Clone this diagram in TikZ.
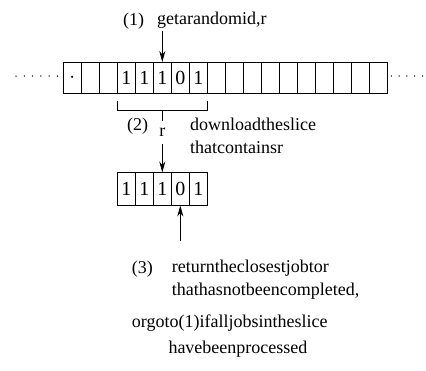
\documentclass[tikz,border=0pt]{standalone}
\usepackage{fontspec}
\setmainfont{Liberation Serif}
\usetikzlibrary{arrows.meta,calc}
\tikzset{
  cell/.style={draw,line width=.8pt,minimum width=18pt,minimum height=31pt,
               inner sep=0pt,outer sep=0pt,font=\fontsize{20}{20}\selectfont},
  lbl/.style ={inner sep=0pt,anchor=base west,font=\fontsize{18}{21}\selectfont},
  ln/.style  ={line width=.8pt},
  ar/.style  ={-{Stealth[length=11pt,width=6pt]},line width=.8pt},
}
\begin{document}
\begin{tikzpicture}[x=1pt,y=-1pt]
\useasboundingbox (0,0) rectangle (426,370);

% ---- the id space ---------------------------------------------------------
\foreach \i/\t in {0/{$\cdot$},1/{},2/{},3/1,4/1,5/1,6/0,7/1,8/{},9/{},10/{},
                   11/{},12/{},13/{},14/{},15/{},16/{},17/{}}
  \node[cell,anchor=north west] (c\i) at (63.3+18*\i,62) {\t};
\foreach \x in {0,...,5} \fill ($(c0.west)+(-47.3+8.3*\x,-1.5)$) circle (.75pt);
\foreach \x in {0,...,4} \fill ($(c17.east)+(4+7.8*\x,-1.5)$) circle (.75pt);

% ---- (1) pick an id ---------------------------------------------------------
\node[lbl] (n1) at (123,25) {(1)};
\node[lbl] (t1) at (157,24) {getarandomid,r};
\coordinate (p1) at ($(c5.north)+(0,-31)$);
\draw[ar] (p1) -- (c5.north);

% ---- (2) the slice ----------------------------------------------------------
\coordinate (bl) at ($(c3.south west)+(0,8)$);
\coordinate (br) at ($(c7.south east)+(0,8)$);
\coordinate (bm) at ($(c5.south)+(0,17.7)$);
\draw[ln] (bl) |- (bm) -| (br);

\foreach \i/\t in {0/1,1/1,2/1,3/0,4/1}
  \node[cell,minimum height=33pt,anchor=north west] (s\i) at (117.3+18*\i,172.5) {\t};
\draw[ar] (bm) -- node[pos=.35,fill=white,inner sep=0pt,minimum height=23pt,
                       font=\fontsize{18}{21}\selectfont] (r) {r} (s2.north);

\node[lbl] (n2) at (127,130) {(2)};
\node[lbl] (t2a) at (190,130) {downloadtheslice};
\node[lbl] (t2b) at (190,153) {thatcontainsr};

% ---- (3) the job ------------------------------------------------------------
\coordinate (p3) at ($(s3.south)+(0,35)$);
\draw[ar] (p3) -- (s3.south);

\node[lbl] (n3) at (131.7,273) {(3)};
\node[lbl] (t3a) at (171.7,272) {returntheclosestjobtor};
\node[lbl] (t3b) at (171.7,295) {thathasnotbeencompleted,};
\node[lbl] (t3c) at (131.7,327) {orgoto(1)ifalljobsintheslice};
\node[lbl] (t3d) at (168.3,353) {havebeenprocessed};
\end{tikzpicture}
\end{document}
